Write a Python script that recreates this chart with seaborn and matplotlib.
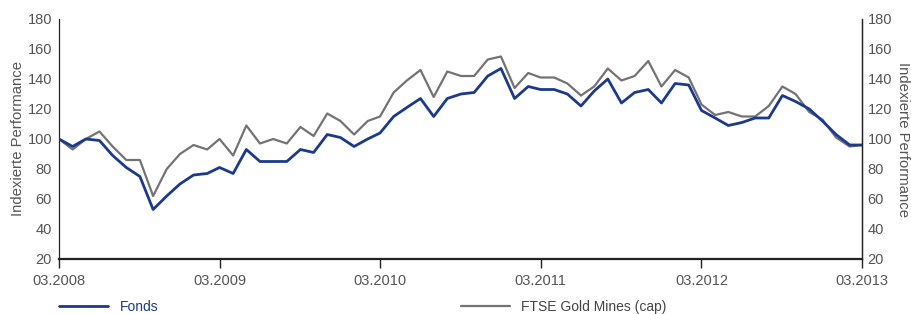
import pandas as pd
import seaborn as sns
import matplotlib.pyplot as plt
import matplotlib.dates as mdates
from matplotlib.lines import Line2D

# Monthly index values, 03.2008 - 03.2013
months = pd.date_range('2008-03-01', periods=61, freq='MS')
fonds = [100, 95, 100, 99, 89, 81, 75, 53, 62, 70, 76, 77,
         81, 77, 93, 85, 85, 85, 93, 91, 103, 101, 95, 100,
         104, 115, 121, 127, 115, 127, 130, 131, 142, 147, 127, 135,
         133, 133, 130, 122, 132, 140, 124, 131, 133, 124, 137, 136,
         119, 114, 109, 111, 114, 114, 129, 125, 120, 112, 103, 96,
         96]
ftse = [100, 93, 100, 105, 95, 86, 86, 62, 80, 90, 96, 93,
        100, 89, 109, 97, 100, 97, 108, 102, 117, 112, 103, 112,
        115, 131, 139, 146, 128, 145, 142, 142, 153, 155, 134, 144,
        141, 141, 137, 129, 135, 147, 139, 142, 152, 135, 146, 141,
        123, 116, 118, 115, 115, 122, 135, 130, 118, 113, 101, 95,
        96]
series_names = ['Fonds', 'FTSE Gold Mines (cap)']
y_ticks = [20, 40, 60, 80, 100, 120, 140, 160, 180]
x_ticks = pd.to_datetime(['2008-03-01', '2009-03-01', '2010-03-01',
                          '2011-03-01', '2012-03-01', '2013-03-01'])

blue = '#1b3a8c'
grey = '#737373'
text_grey = '#555555'

df = pd.DataFrame({'Monat': list(months) * 2,
                   'Wert': fonds + ftse,
                   'Serie': [series_names[0]] * len(fonds) + [series_names[1]] * len(ftse)})

sns.set_style('white')
plt.rcParams['font.family'] = ['Liberation Sans Narrow', 'Liberation Sans', 'DejaVu Sans']

fig = plt.figure(figsize=(9.12, 3.14), dpi=100)
ax = fig.add_axes([59 / 912, 1 - 259 / 314, (862 - 59) / 912, (259 - 19) / 314])

sns.lineplot(data=df, x='Monat', y='Wert', hue='Serie', hue_order=series_names[::-1],
             palette={series_names[0]: blue, series_names[1]: grey},
             ax=ax, legend=False)
lines = ax.get_lines()
lines[0].set_linewidth(1.6)   # FTSE
lines[1].set_linewidth(2.0)   # Fonds
lines[1].set_zorder(3)

ax.set_xlim(months[0], months[-1])
ax.set_ylim(20, 180)
ax.set_yticks(y_ticks)
ax.set_xticks(x_ticks)
ax.xaxis.set_major_formatter(mdates.DateFormatter('%m.%Y'))
ax.set_xlabel('')
ax.set_ylabel('Indexierte Performance', fontsize=10.7, color=text_grey,
              ha='center', va='center')
ax.yaxis.set_label_coords((18 - 59) / 803, 0.5)

ax.tick_params(axis='x', direction='out', length=6.5, width=1, color='#222222',
               labelsize=10.5, labelcolor=text_grey, pad=4, bottom=True)
ax.tick_params(axis='y', length=0, labelsize=10.5, labelcolor=text_grey, pad=5)

ax.spines['top'].set_visible(False)
ax.spines['bottom'].set_linewidth(1.6)
ax.spines['bottom'].set_color('#222222')
ax.spines['left'].set_linewidth(0.9)
ax.spines['left'].set_color('#222222')
ax.spines['right'].set_linewidth(0.9)
ax.spines['right'].set_color('#222222')

ax2 = ax.twinx()
ax2.set_ylim(20, 180)
ax2.set_yticks(y_ticks)
ax2.tick_params(axis='y', length=0, labelsize=10.5, labelcolor=text_grey, pad=4)
ax2.set_ylabel('Indexierte Performance', fontsize=10.7, color=text_grey,
               rotation=270, ha='center', va='center')
ax2.yaxis.set_label_coords((903 - 59) / 803, 0.5)
for side in ['top', 'left', 'bottom']:
    ax2.spines[side].set_visible(False)
ax2.spines['right'].set_linewidth(0.9)
ax2.spines['right'].set_color('#222222')

# Legend below the chart, two separate entries
h_fonds = Line2D([], [], color=blue, linewidth=2.0)
h_ftse = Line2D([], [], color=grey, linewidth=1.6)
leg1 = fig.legend([h_fonds], [series_names[0]], loc='center left',
                  bbox_to_anchor=(59 / 912, 1 - 307 / 314), frameon=False,
                  borderpad=0, borderaxespad=0,
                  handlelength=3.5, handletextpad=0.85, fontsize=10)
for t in leg1.get_texts():
    t.set_color(blue)
leg2 = fig.legend([h_ftse], [series_names[1]], loc='center left',
                  bbox_to_anchor=(461 / 912, 1 - 307 / 314), frameon=False,
                  borderpad=0, borderaxespad=0,
                  handlelength=3.5, handletextpad=0.85, fontsize=10)
for t in leg2.get_texts():
    t.set_color('#444444')

plt.savefig('out.png', dpi=100)
